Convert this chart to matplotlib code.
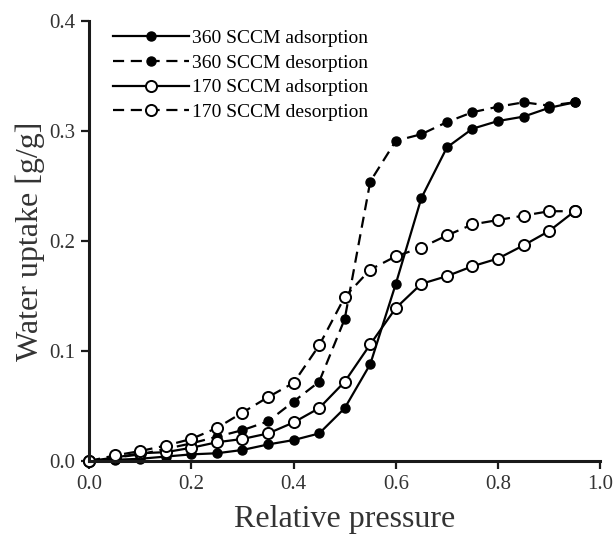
import numpy as np
import matplotlib
matplotlib.use("Agg")
import matplotlib.pyplot as plt

plt.rcParams["font.family"] = ["Liberation Serif", "DejaVu Serif"]

x = [0.0, 0.05, 0.1, 0.15, 0.2, 0.25, 0.3, 0.35, 0.4, 0.45,
     0.5, 0.55, 0.6, 0.65, 0.7, 0.75, 0.8, 0.85, 0.9, 0.95]

ads_360 = [0.0, 0.001, 0.002, 0.004, 0.006, 0.007, 0.010, 0.015, 0.019, 0.025,
           0.048, 0.088, 0.161, 0.239, 0.285, 0.302, 0.309, 0.313, 0.321, 0.326]
des_360 = [0.0, 0.003, 0.006, 0.011, 0.016, 0.022, 0.028, 0.036, 0.054, 0.072,
           0.129, 0.254, 0.291, 0.297, 0.308, 0.317, 0.322, 0.326, 0.323, 0.326]
ads_170 = [0.0, 0.003, 0.007, 0.008, 0.012, 0.017, 0.020, 0.025, 0.035, 0.048,
           0.072, 0.106, 0.139, 0.161, 0.168, 0.177, 0.184, 0.196, 0.209, 0.227]
des_170 = [0.0, 0.005, 0.009, 0.014, 0.020, 0.030, 0.044, 0.058, 0.071, 0.105,
           0.149, 0.174, 0.186, 0.194, 0.205, 0.215, 0.219, 0.223, 0.227, 0.227]

fig = plt.figure(figsize=(6.15, 5.36), dpi=100)
ax = fig.add_axes([0.145, 0.14, 0.831, 0.821])

ax.plot(x, ads_360, "-", color="black", lw=1.6, marker="o", ms=6.5,
        mfc="black", mec="black", label="360 SCCM adsorption")
ax.plot(x, des_360, "--", color="black", lw=1.6, marker="o", ms=6.5,
        mfc="black", mec="black", dashes=(5, 3), label="360 SCCM desorption")
ax.plot(x, ads_170, "-", color="black", lw=1.6, marker="o", ms=8,
        mfc="white", mec="black", mew=1.4, label="170 SCCM adsorption")
ax.plot(x, des_170, "--", color="black", lw=1.6, marker="o", ms=8,
        mfc="white", mec="black", mew=1.4, dashes=(5, 3), label="170 SCCM desorption")

ax.set_xlim(0, 1.0)
ax.set_ylim(0, 0.4)
ax.set_xticks([0.0, 0.2, 0.4, 0.6, 0.8, 1.0])
ax.set_yticks([0.0, 0.1, 0.2, 0.3, 0.4])
ax.xaxis.set_major_formatter(matplotlib.ticker.FormatStrFormatter("%.1f"))
ax.yaxis.set_major_formatter(matplotlib.ticker.FormatStrFormatter("%.1f"))

for s in ["top", "right"]:
    ax.spines[s].set_visible(False)
for s in ["left", "bottom"]:
    ax.spines[s].set_linewidth(2.2)
    ax.spines[s].set_color("#1a1a1a")

ax.tick_params(direction="out", length=6, width=1.6, labelsize=15, colors="#1a1a1a",
               labelcolor="#333333", pad=4)

ax.set_xlabel("Relative pressure", fontsize=23, color="#333333", labelpad=8)
ax.set_ylabel("Water uptake [g/g]", fontsize=23, color="#333333", labelpad=3)

for line in ax.lines:
    line.set_clip_on(False)

leg = ax.legend(loc="upper left", bbox_to_anchor=(0.012, 1.02), frameon=False,
                fontsize=14, handlelength=3.9, handletextpad=0.15, labelspacing=0.36)

fig.savefig("out.png", dpi=100)
